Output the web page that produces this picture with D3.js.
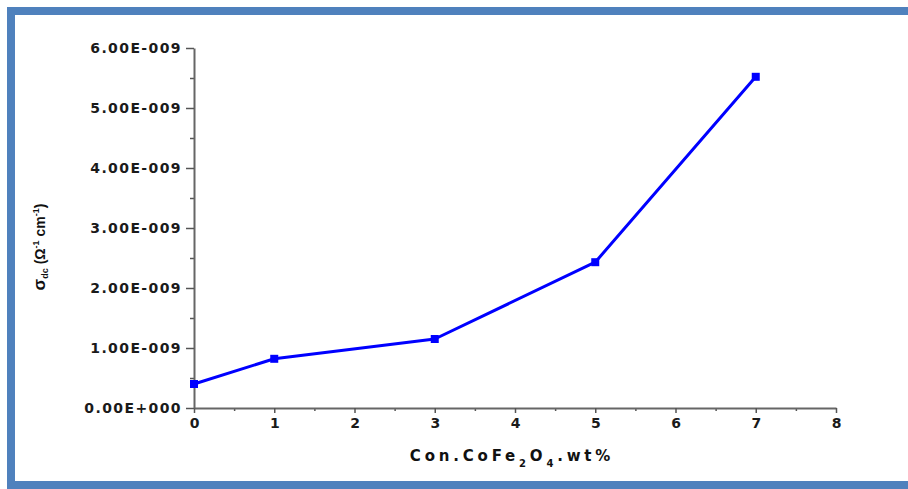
<!DOCTYPE html>
<html>
<head>
<meta charset="utf-8">
<script src="https://cdn.jsdelivr.net/npm/d3@7"></script>
<style>
  body { margin: 0; background: #fff; }
  svg { display: block; }
  .tick text { font-family: "DejaVu Sans", sans-serif; font-weight: bold; fill: #1a1a1a; }
</style>
</head>
<body>
<div id="chart"></div>
<script>
// data
var concentration = [0, 1, 3, 5, 7];
var sigmaDc = [0.40e-9, 0.82e-9, 1.15e-9, 2.43e-9, 5.52e-9];
var xTicks = [0, 1, 2, 3, 4, 5, 6, 7, 8];
var yTicks = [0, 1e-9, 2e-9, 3e-9, 4e-9, 5e-9, 6e-9];
var yTickLabels = ["0.00E+000", "1.00E-009", "2.00E-009", "3.00E-009", "4.00E-009", "5.00E-009", "6.00E-009"];

var fullWidth = 908, fullHeight = 489;
var margin = { top: 48, right: 72, bottom: 81, left: 194 };
var width = fullWidth - margin.left - margin.right;
var height = fullHeight - margin.top - margin.bottom;

var svg = d3.select("#chart").append("svg")
    .attr("width", fullWidth)
    .attr("height", fullHeight);

// blue frame (right side runs off the picture)
svg.append("rect")
    .attr("x", 11).attr("y", 11)
    .attr("width", 930).attr("height", 474)
    .attr("fill", "none")
    .attr("stroke", "#4f81bd")
    .attr("stroke-width", 8);

var g = svg.append("g")
    .attr("transform", "translate(" + margin.left + "," + margin.top + ")");

var x = d3.scaleLinear().domain([0, 8]).range([0, width]);
var y = d3.scaleLinear().domain([0, 6e-9]).range([height, 0]);

// minor ticks
g.append("g")
    .attr("transform", "translate(0," + height + ")")
    .call(d3.axisBottom(x).tickValues(d3.range(0.5, 8, 1)).tickSize(3).tickFormat(""))
    .call(s => s.select(".domain").remove())
    .selectAll("line").attr("stroke", "#444").attr("stroke-width", 1.5);
g.append("g")
    .call(d3.axisLeft(y).tickValues(d3.range(0.5e-9, 6e-9, 1e-9)).tickSize(4).tickFormat(""))
    .call(s => s.select(".domain").remove())
    .selectAll("line").attr("stroke", "#444").attr("stroke-width", 1.5);

// main axes
var xAxis = g.append("g")
    .attr("transform", "translate(0," + height + ")")
    .call(d3.axisBottom(x).tickValues(xTicks).tickSize(5).tickSizeOuter(0).tickPadding(5));
xAxis.selectAll("text").style("font-size", "14px");

var yAxis = g.append("g")
    .call(d3.axisLeft(y).tickValues(yTicks).tickSize(8).tickSizeOuter(0).tickPadding(4)
        .tickFormat((d, i) => yTickLabels[i]));
yAxis.selectAll("text")
    .style("font-size", "14px")
    .style("letter-spacing", "1.4px")
    .attr("dy", "0.35em");

svg.selectAll(".domain").attr("stroke", "#666").attr("stroke-width", 2);
svg.selectAll(".tick line").attr("stroke", "#555").attr("stroke-width", 1.5);

// data line and square markers
var points = concentration.map((c, i) => ({ c: c, v: sigmaDc[i] }));
var line = d3.line()
    .x(d => x(d.c))
    .y(d => y(d.v));

g.append("path")
    .datum(points)
    .attr("fill", "none")
    .attr("stroke", "#0000ff")
    .attr("stroke-width", 3)
    .attr("stroke-linejoin", "round")
    .attr("d", line);

g.selectAll(".marker")
    .data(points)
    .enter().append("rect")
    .attr("class", "marker")
    .attr("x", d => x(d.c) - 4)
    .attr("y", d => y(d.v) - 4)
    .attr("width", 8)
    .attr("height", 8)
    .attr("fill", "#0000ff");

// x axis title
var xt = svg.append("text")
    .attr("x", 512)
    .attr("y", 461)
    .attr("text-anchor", "middle")
    .style("font-family", "'DejaVu Sans', sans-serif")
    .style("font-weight", "bold")
    .style("font-size", "15px")
    .style("letter-spacing", "3.8px")
    .attr("fill", "#111");
xt.append("tspan").text("Con.CoFe");
xt.append("tspan").attr("dy", 6).style("font-size", "10px").text("2");
xt.append("tspan").attr("dy", -6).text("O");
xt.append("tspan").attr("dy", 6).style("font-size", "10px").text("4");
xt.append("tspan").attr("dy", -6).text(".wt%");

// y axis title
var yt = svg.append("text")
    .attr("transform", "translate(45,247) rotate(-90)")
    .attr("text-anchor", "middle")
    .style("font-family", "'Liberation Sans', Arial, sans-serif")
    .style("font-weight", "bold")
    .style("font-size", "14px")
    .attr("fill", "#111");
yt.append("tspan").style("font-size", "17px").text("σ");
yt.append("tspan").attr("dy", 3).style("font-size", "9px").text("dc");
yt.append("tspan").attr("dy", -3).text(" (Ω");
yt.append("tspan").attr("dy", -6).style("font-size", "9px").text("-1");
yt.append("tspan").attr("dy", 6).text(" cm");
yt.append("tspan").attr("dy", -6).style("font-size", "9px").text("-1");
yt.append("tspan").attr("dy", 6).text(")");
</script>
</body>
</html>
